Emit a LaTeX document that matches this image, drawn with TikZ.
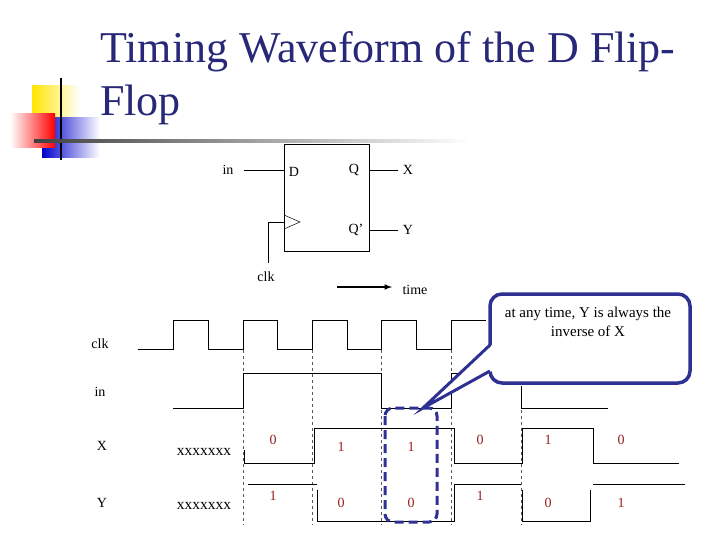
\documentclass[tikz,border=0pt]{standalone}
\usepackage{fontspec}
\setmainfont{Liberation Serif}
\usetikzlibrary{shapes.geometric}
\definecolor{navy}{RGB}{46,49,146}
\definecolor{titleblue}{RGB}{40,40,120}
\definecolor{dred}{RGB}{150,30,30}
\begin{document}
\begin{tikzpicture}[x=1pt,y=-1pt,
  lbl/.style={font=\fontsize{14}{16}\selectfont, inner sep=0pt},
  num/.style={font=\fontsize{14}{16}\selectfont, inner sep=0pt, text=dred},
  wave/.style={line width=0.8pt},
  grid/.style={dashed, line width=0.5pt, gray!70!black}]
\useasboundingbox (0,0) rectangle (720,540);
% decoration
\shade[left color=yellow!80!orange, right color=white] (32,86) rectangle (80,120);
\shade[left color=blue!80!black, right color=white] (42,118) rectangle (100,158);
\shade[left color=white, right color=red] (10,114) rectangle (55,148);
\draw[line width=1.8pt] (61,78) -- (61,160);
\shade[left color=black!75, right color=white] (34,140) rectangle (470,142.5);
% title
\node[anchor=west, text=titleblue, font=\fontsize{44}{53}\selectfont, inner sep=0pt] (t1) at (100,52) {Timing Waveform of the D Flip-};
\node[anchor=west, text=titleblue, font=\fontsize{44}{53}\selectfont, inner sep=0pt] (t2) at (100,105) {Flop};
% flip-flop
\draw[wave] (284,144) rectangle (369,251);
\node[lbl] (in) at (228,170) {in};
\coordinate (dpin) at (284,170);
\draw[wave] (244,170) -- (dpin);
\node[lbl] (D) at (294,172) {D};
\node[lbl] (Q) at (354,170) {Q};
\node[lbl] (Qb) at (356,230) {Q'};
\node[lbl] (X) at (408,170) {X};
\node[lbl] (Y) at (408,230) {Y};
\draw[wave] (369,170) -- (398,170);
\draw[wave] (369,230) -- (398,230);
\draw[line width=0.5pt] (284,215) -- (300,222) -- (284,229);
\draw[wave] (284,222) -- (268,222) -- (268,263);
\node[lbl] (clkl) at (266,277) {clk};
\node[lbl] (time) at (415,290) {time};
\draw[-latex, line width=1.5pt] (337,287) -- (392,287);
% labels
\node[lbl] (c) at (100,344) {clk};
\node[lbl] (i) at (100,392) {in};
\node[lbl] (x) at (102,446) {X};
\node[lbl] (y) at (102,503) {Y};
\node[lbl, font=\fontsize{15.5}{17}\selectfont] (xx1) at (204,452) {xxxxxxx};
\node[lbl, font=\fontsize{15.5}{17}\selectfont] (xx2) at (204,506) {xxxxxxx};
% grid
\foreach \g in {243,312,381,451,521} \draw[grid] (\g,350) -- (\g,525);
% clk
\draw[wave] (138,349) -- (173,349) -- (173,320) -- (208,320) -- (208,349)
  -- (243,349) -- (243,320) -- (277,320) -- (277,349)
  -- (312,349) -- (312,320) -- (347,320) -- (347,349)
  -- (381,349) -- (381,320) -- (416,320) -- (416,349)
  -- (451,349) -- (451,320) -- (486,320) -- (486,349) -- (520,349);
% in
\draw[wave] (173,408) -- (243,408) -- (243,373) -- (381,373) -- (381,408) -- (451,408) -- (451,373) -- (521,373) -- (521,408) -- (608,408);
% X
\draw[wave] (244,463) -- (244,450);
\draw[wave] (244,463) -- (314,463) -- (314,428) -- (454,428) -- (454,463) -- (522,463) -- (522,428) -- (593,428) -- (593,463) -- (679,463);
% Y
\draw[wave] (248,484) -- (317,484);
\draw[wave] (317,490) -- (317,521) -- (454,521) -- (454,484) -- (521,484);
\draw[wave] (522,490) -- (522,521) -- (590,521) -- (590,490);
\draw[wave] (593,484) -- (685,484);
% numbers
\foreach \xx/\v/\yy in {273/0/440,341/1/447,411/1/447,480/0/440,548/1/440,621/0/440} \node[num] at (\xx,\yy) {\v};
\foreach \xx/\v/\yy in {273/1/496,341/0/503,411/0/503,480/1/496,548/0/503,621/1/503} \node[num] at (\xx,\yy) {\v};
% dashed box
\draw[navy, line width=3pt, dash pattern=on 9pt off 5pt, rounded corners=8pt] (385,408) rectangle (437,522);
% callout
\fill[white] (486,291) rectangle (692,386);
\draw[navy, line width=3.5pt, fill=white, rounded corners=12pt] (490,294) rectangle (690,383);
\fill[white] (492,345) -- (423,408) -- (492,371) -- cycle;
\draw[navy, line width=3pt, line join=miter] (490,345) -- (423,408) -- (490,371);
\node[lbl, align=center, font=\fontsize{15}{19}\selectfont] (cal) at (588,322) {at any time, Y is always the\\inverse of X};
\end{tikzpicture}
\end{document}
